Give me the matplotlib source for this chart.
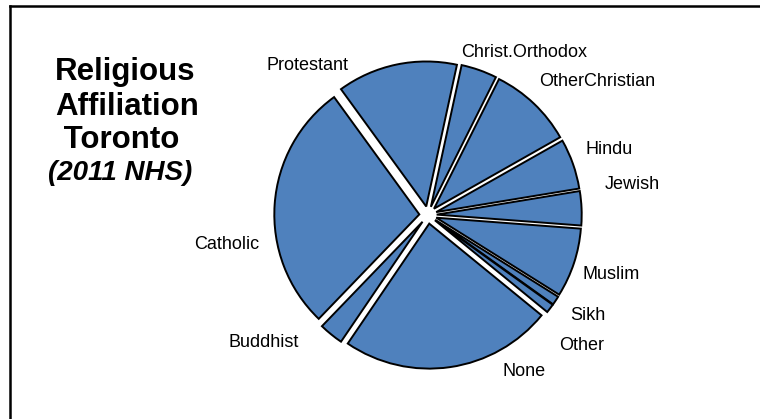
import matplotlib.pyplot as plt
from matplotlib.lines import Line2D

plt.rcParams['font.family'] = ['Liberation Sans', 'DejaVu Sans']

# religious affiliation, % of population (clockwise from Protestant)
religions = ['Protestant', 'Christ.Orthodox', 'OtherChristian', 'Hindu', 'Jewish',
             'Muslim', 'Sikh', 'Other', 'None', 'Buddhist', 'Catholic']
shares = [13.4, 4.0, 9.4, 5.6, 3.8, 7.7, 1.0, 1.0, 23.6, 2.7, 27.8]

# label anchors, in pie radii from the centre
label_pos = [(-0.83, 1.03), (0.66, 1.12), (1.17, 0.92), (1.25, 0.45), (1.41, 0.21),
             (1.26, -0.41), (1.10, -0.69), (1.06, -0.90), (0.66, -1.08),
             (-1.13, -0.88), (-1.39, -0.20)]

W, H = 760, 419
cx, cy, R = 428, 215, 145   # pie centre and radius in pixels

fig = plt.figure(figsize=(W / 100, H / 100), dpi=100)
ax = fig.add_axes([0, 0, 1, 1])

ax.pie(shares, startangle=126, counterclock=False, radius=1,
       explode=[0.06] * len(shares), colors=['#4f81bd'] * len(shares),
       wedgeprops=dict(edgecolor='black', linewidth=1.4))

for name, (x, y) in zip(religions, label_pos):
    ax.text(x, y, name, fontsize=13, ha='center', va='center')

ax.set_xlim(-cx / R, (W - cx) / R)
ax.set_ylim(-(H - cy) / R, cy / R)
ax.set_aspect('auto')
ax.axis('off')

# title block, one line at a time (x centre, baseline in pixels)
title_lines = [('Religious', 125, 80), ('Affiliation', 127, 115), (' Toronto', 117, 148)]
for txt, x, y in title_lines:
    fig.text(x / W, 1 - y / H, txt, fontsize=22.5, fontweight='bold',
             ha='center', va='baseline')
fig.text(120 / W, 1 - 180 / H, '(2011 NHS)', fontsize=20, fontweight='bold',
         fontstyle='italic', ha='center', va='baseline')

# chart frame (clipped on the right and bottom)
fig.add_artist(Line2D([10 / W, 10 / W], [0, 1 - 6 / H], color='black', lw=1.8))
fig.add_artist(Line2D([10 / W, 1], [1 - 6 / H, 1 - 6 / H], color='black', lw=1.8))

fig.savefig('out.png', dpi=100)
